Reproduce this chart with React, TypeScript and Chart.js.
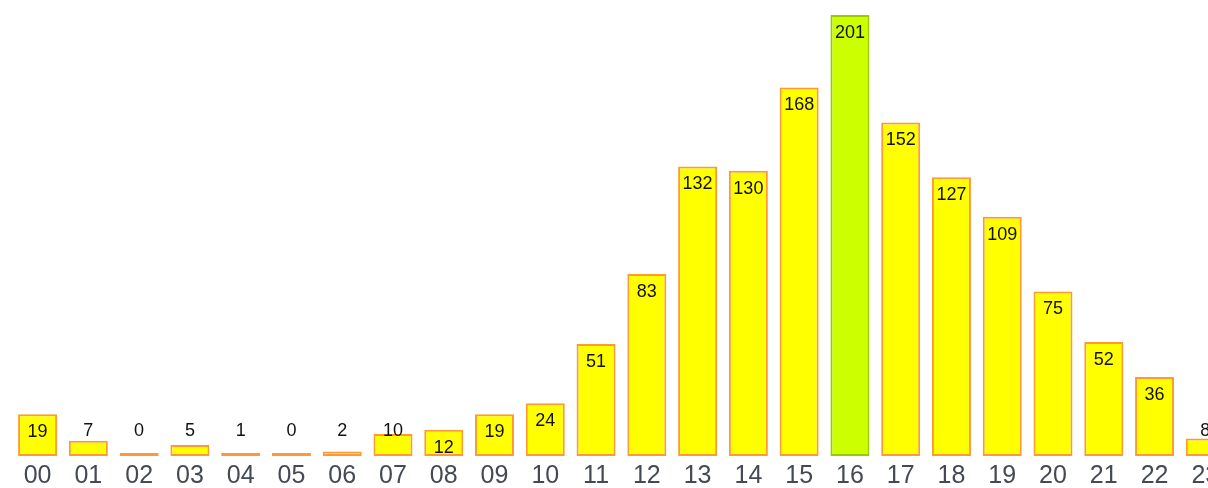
import React, { useEffect, useRef } from "react";
import { Chart, registerables } from "chart.js";

Chart.register(...registerables);

const hours = ["00","01","02","03","04","05","06","07","08","09","10","11","12","13","14","15","16","17","18","19","20","21","22","23"];
const counts = [19, 7, 0, 5, 1, 0, 2, 10, 12, 19, 24, 51, 83, 132, 130, 168, 201, 152, 127, 109, 75, 52, 36, 8];
const peakHour = "16";

const labelPlugin = {
  id: "barValueLabels",
  afterDatasetsDraw(chart: any) {
    const ctx = chart.ctx;
    const meta = chart.getDatasetMeta(0);
    const data = chart.data.datasets[0].data as number[];
    ctx.save();
    ctx.font = "18px 'Liberation Sans', Arial, sans-serif";
    ctx.fillStyle = "#111111";
    ctx.textAlign = "center";
    ctx.textBaseline = "middle";
    meta.data.forEach((bar: any, i: number) => {
      const h = bar.base - bar.y;
      const y = h >= 24 ? bar.y + 18 : bar.base - 25;
      ctx.fillText(String(data[i]), bar.x, y);
    });
    ctx.restore();
  },
};

export default function App() {
  const ref = useRef<HTMLCanvasElement | null>(null);
  useEffect(() => {
    if (!ref.current) return;
    const chart = new Chart(ref.current, {
      type: "bar",
      data: {
        labels: hours,
        datasets: [
          {
            data: counts,
            backgroundColor: hours.map((h) => (h === peakHour ? "#ccff00" : "#ffff00")),
            borderColor: hours.map((h) => (h === peakHour ? "#99cc00" : "#ff9933")),
            borderWidth: 2,
            borderSkipped: false,
            minBarLength: 3,
            categoryPercentage: 1,
            barPercentage: 0.768,
          },
        ],
      },
      options: {
        responsive: false,
        animation: false,
        layout: { padding: { left: 12.2, right: 9.3, top: 15, bottom: 0 } },
        plugins: { legend: { display: false }, tooltip: { enabled: false } },
        scales: {
          x: {
            grid: { display: false, drawTicks: false },
            border: { display: false },
            ticks: {
              color: "#444a55",
              font: { family: "'Liberation Sans', Arial, sans-serif", size: 25, lineHeight: 1 },
              padding: 8,
              maxRotation: 0,
              autoSkip: false,
            },
          },
          y: {
            display: false,
            min: 0,
            max: 201,
          },
        },
      },
      plugins: [labelPlugin],
    });
    return () => chart.destroy();
  }, []);
  return (
    <div style={{ position: "fixed", left: 0, top: 0, width: 1208, height: 488, overflow: "hidden", background: "#fff" }}>
      <canvas ref={ref} width={1240} height={497} style={{ display: "block" }} />
    </div>
  );
}
